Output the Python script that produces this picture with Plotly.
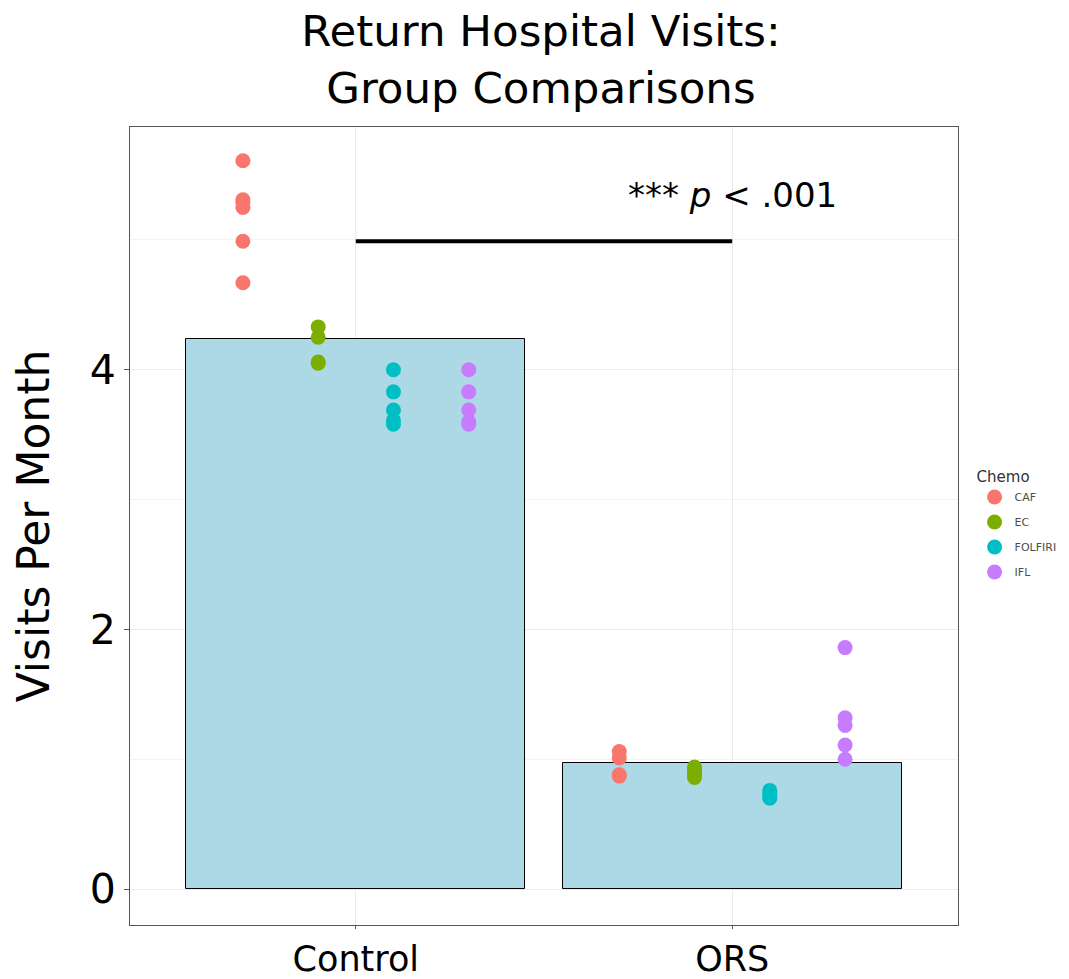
import plotly.graph_objects as go

groups = ["Control", "ORS"]
group_pos = [1, 2]
bar_means = [4.24, 0.97]

chemos = ["CAF", "EC", "FOLFIRI", "IFL"]
chemo_colors = ["#F8766D", "#7CAE00", "#00BFC4", "#C77CFF"]
dodge_offsets = [-0.3, -0.1, 0.1, 0.3]

control_caf = [5.61, 5.31, 5.29, 5.25, 4.99, 4.67]
control_ec = [4.33, 4.25, 4.06, 4.05]
control_folfiri = [4.00, 3.83, 3.69, 3.61, 3.58]
control_ifl = [4.00, 3.83, 3.69, 3.60, 3.58]

ors_caf = [1.06, 1.01, 0.88, 0.87]
ors_ec = [0.94, 0.92, 0.90, 0.88, 0.86]
ors_folfiri = [0.76, 0.74, 0.72, 0.70]
ors_ifl = [1.86, 1.32, 1.26, 1.11, 1.00]

points = {
    "Control": [control_caf, control_ec, control_folfiri, control_ifl],
    "ORS": [ors_caf, ors_ec, ors_folfiri, ors_ifl],
}

sig_y = 4.99
sig_label = "*** <i>p</i> < .001"

FONT = "DejaVu Sans"

fig = go.Figure()

fig.add_trace(go.Bar(
    x=group_pos, y=bar_means, width=0.9,
    marker=dict(color="#ADD8E6", line=dict(color="black", width=1)),
    showlegend=False, hoverinfo="skip",
))

for ci, chemo in enumerate(chemos):
    xs, ys = [], []
    for gi, g in enumerate(groups):
        vals = points[g][ci]
        xs += [group_pos[gi] + dodge_offsets[ci]] * len(vals)
        ys += vals
    fig.add_trace(go.Scatter(
        x=xs, y=ys, mode="markers", name=chemo, legendgroup=chemo,
        marker=dict(color=chemo_colors[ci], size=15, line=dict(width=0)),
    ))

fig.add_shape(type="line", x0=group_pos[0], x1=group_pos[1], y0=sig_y, y1=sig_y,
              xref="x", yref="y", line=dict(color="black", width=4))
fig.add_annotation(x=group_pos[1], y=5.35, text=sig_label, showarrow=False,
                   font=dict(family=FONT, size=34, color="black"))

fig.update_layout(
    width=1069, height=979,
    margin=dict(l=130, r=111, t=127, b=54, autoexpand=False),
    paper_bgcolor="white", plot_bgcolor="white",
    font=dict(family=FONT, color="black"),
    title=dict(text="Return Hospital Visits:<br>Group Comparisons",
               x=0.506, xanchor="center", y=0.953, yanchor="top",
               font=dict(family=FONT, size=43.5, color="black")),
    legend=dict(x=1.02, xanchor="left", y=0.579, yanchor="top",
                title=dict(text="Chemo", font=dict(family=FONT, size=15, color="#333")),
                font=dict(family=FONT, size=11, color="#4d4d4d"),
                itemsizing="trace", tracegroupgap=6, bgcolor="rgba(0,0,0,0)"),
    showlegend=True,
    bargap=0,
)

fig.update_xaxes(
    range=[0.4, 2.6], tickvals=group_pos, ticktext=groups,
    tickfont=dict(family=FONT, size=35, color="black"),
    showgrid=True, gridcolor="#EBEBEB", gridwidth=1,
    showline=True, linecolor="#555", linewidth=1, mirror=True,
    ticks="outside", ticklen=3, tickcolor="#555", zeroline=False,
    automargin=False,
)
fig.update_yaxes(
    range=[-0.277, 5.87], tickvals=[0, 2, 4],
    tickfont=dict(family=FONT, size=41, color="black"),
    title=dict(text="Visits Per Month", font=dict(family=FONT, size=44, color="black"), standoff=26),
    showgrid=True, gridcolor="#EBEBEB", gridwidth=1,
    minor=dict(tickvals=[1, 3, 5], showgrid=True, gridcolor="#F3F3F3", gridwidth=1, ticks=""),
    showline=True, linecolor="#555", linewidth=1, mirror=True,
    ticks="outside", ticklen=5, tickcolor="#555", zeroline=False,
    automargin=False,
)

fig.write_html("out.html", config={"displayModeBar": False},
               post_script="document.body.style.margin='0';document.body.style.overflow='hidden';")
